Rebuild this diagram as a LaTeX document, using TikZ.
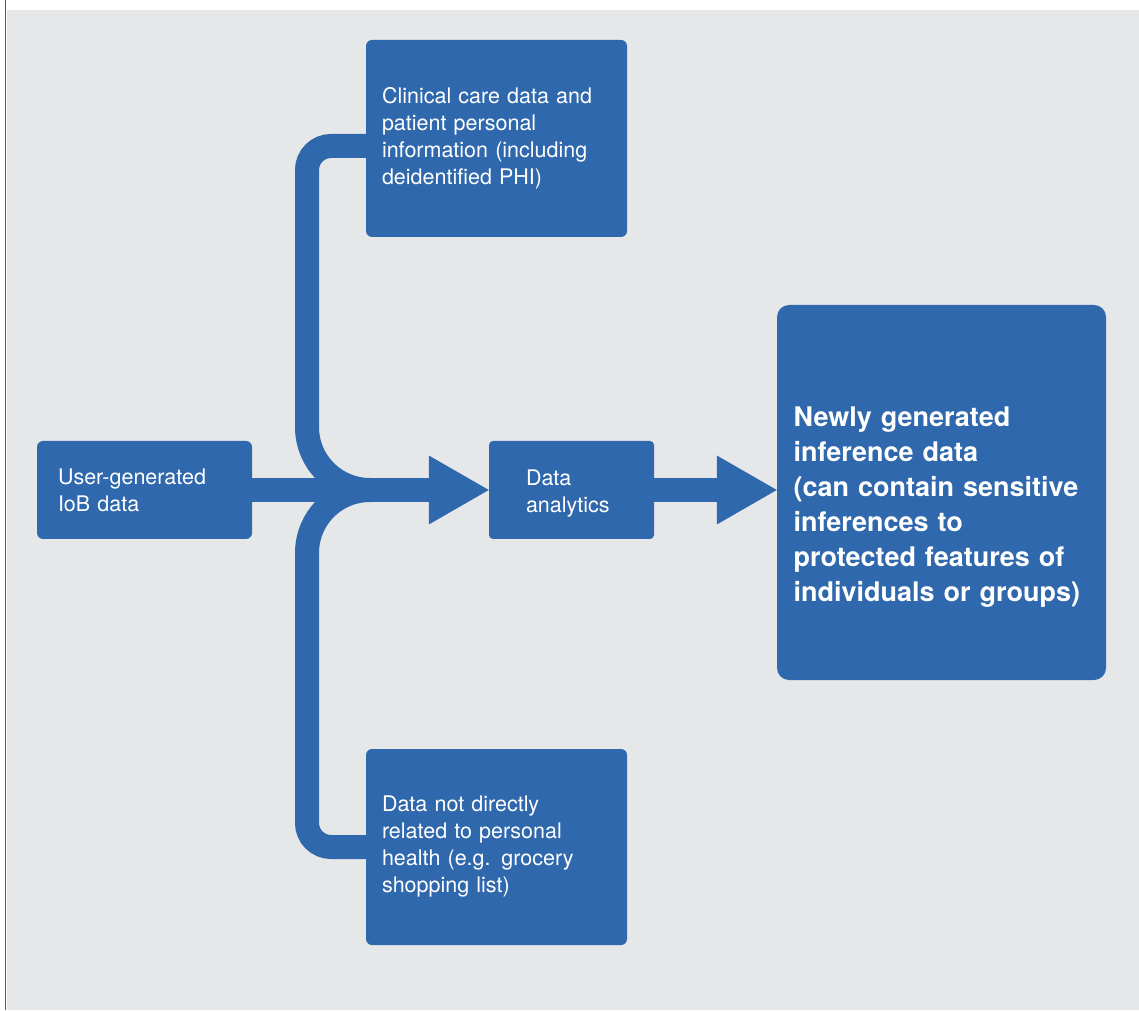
\documentclass[tikz,border=0pt]{standalone}
\usepackage{fontspec}
\setmainfont{TeX Gyre Heros}
\usepackage{tikz}
\usetikzlibrary{arrows.meta, positioning}
\definecolor{iobblue}{HTML}{2F68AC}
\definecolor{panelgray}{HTML}{E6E7E8}
\definecolor{rulegray}{HTML}{58595B}

\begin{document}
\begin{tikzpicture}[x=1pt, y=1pt,
    box/.style={fill=iobblue, text=white, rounded corners=6pt, align=left, inner ysep=0pt,
      font=\fontsize{21.5}{27}\selectfont},
    band/.style={draw=iobblue, line width=24pt},
    head/.style={-{Triangle[length=60pt, width=69pt, line width=0pt]}}]

    % Background panel
    \useasboundingbox (0,0) rectangle (1139,1010);
    \fill[panelgray] (7,0) rectangle (1139,1000);
    \draw[rulegray, line width=1.8pt] (5.5,0) -- (5.5,1010); % left rule

    % Boxes
    \node[box, minimum height=98pt, text width=173pt, inner xsep=21pt] (user) at (144.5,520) {User-generated\\IoB data};
    \node[box, minimum height=197pt, text width=229pt, inner xsep=16pt] (clinical) at (496.5,871.5) {Clinical care data and\\patient personal\\information (including\\deidentified PHI)};
    \node[box, minimum height=196pt, text width=229pt, inner xsep=16pt] (other) at (496.5,163) {Data not directly\\related to personal\\health (e.g. grocery\\shopping list)};
    \node[box, rounded corners=4pt, minimum height=98pt, text width=91pt, inner xsep=37pt] (analytics) at (571.5,520) {\rule{0pt}{23pt}Data\\analytics};
    \node[box, rounded corners=12pt, minimum height=375pt, text width=296pt, inner xsep=16.5pt,
      font=\fontsize{27}{35}\selectfont\bfseries] (inference) at (941.5,517.5) {\rule{0pt}{48pt}Newly generated\\inference data\\(can contain sensitive\\inferences to\\protected features of\\individuals or groups)};

    % Merge point of the two branches
    \coordinate (merge) at (370,520);

    % Branches
    \draw[band] ([yshift=-7.5pt]clinical.west) -- (331,864) arc[start angle=90, end angle=180, radius=24pt]
      -- (307,583) arc[start angle=180, end angle=270, radius=63pt] -- (merge); % upper branch
    \draw[band] (other.west) -- (331,163) arc[start angle=270, end angle=180, radius=24pt]
      -- (307,457) arc[start angle=180, end angle=90, radius=63pt] -- (merge); % lower branch

    % Main flow
    \draw[band, head] (user.east) -- (analytics.west);
    \draw[band, head] (analytics.east) -- (analytics.east -| inference.west);

\end{tikzpicture}
\end{document}
